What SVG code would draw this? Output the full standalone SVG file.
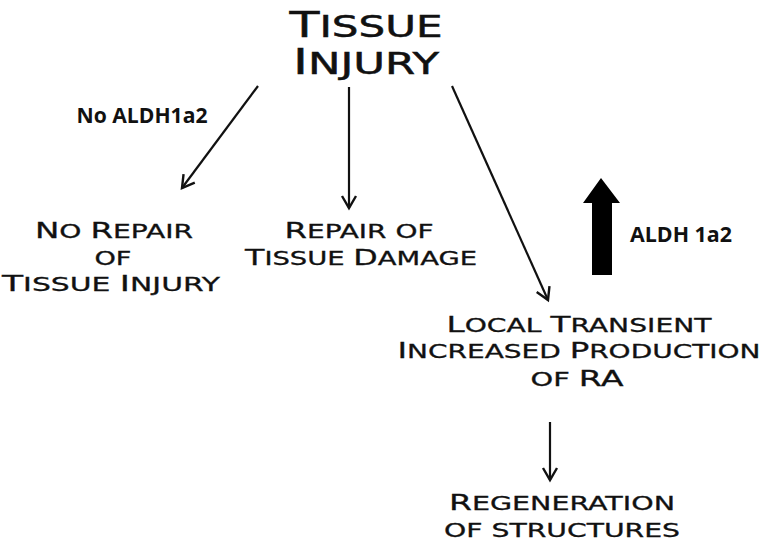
<svg xmlns="http://www.w3.org/2000/svg" width="765" height="547" viewBox="0 0 765 547">
<defs>
<style>
.t{font-family:"DejaVu Sans","Liberation Sans",sans-serif;fill:#111;stroke:#111;stroke-width:0.3;text-anchor:middle;}
.n{font-size:22px;}
.n .s{font-size:19px;text-transform:uppercase;}
.h{font-size:35px;stroke-width:0.5;}
.h .s{font-size:30px;text-transform:uppercase;}
.b{font-family:"Open Sans","Liberation Sans",sans-serif;font-weight:bold;fill:#111;font-size:21px;text-anchor:middle;}
.c{stroke:#111;stroke-width:2.2;fill:none;}
</style>
<marker id="ah" markerUnits="userSpaceOnUse" markerWidth="16" markerHeight="18" refX="13" refY="8" orient="auto" viewBox="0 0 16 16">
<path d="M1,1 L13,8 L1,15" stroke="#111" stroke-width="2.4" fill="none"/>
</marker>
</defs>
<rect width="765" height="547" fill="#fff"/>
<g id="tissue-injury">
<text class="t h" x="366" y="37" textLength="153" lengthAdjust="spacingAndGlyphs">T<tspan class="s">issue</tspan></text>
<text class="t h" x="366" y="74" textLength="146" lengthAdjust="spacingAndGlyphs">I<tspan class="s">njury</tspan></text>
</g>
<g id="no-repair">
<text class="t n" x="114" y="238" textLength="158" lengthAdjust="spacingAndGlyphs">N<tspan class="s">o </tspan>R<tspan class="s">epair</tspan></text>
<text class="t n" x="113" y="265" textLength="37" lengthAdjust="spacingAndGlyphs"><tspan class="s">of</tspan></text>
<text class="t n" x="111" y="291" textLength="218" lengthAdjust="spacingAndGlyphs">T<tspan class="s">issue </tspan>I<tspan class="s">njury</tspan></text>
</g>
<g id="repair">
<text class="t n" x="359" y="238" textLength="149" lengthAdjust="spacingAndGlyphs">R<tspan class="s">epair of</tspan></text>
<text class="t n" x="361" y="265" textLength="232" lengthAdjust="spacingAndGlyphs">T<tspan class="s">issue </tspan>D<tspan class="s">amage</tspan></text>
</g>
<g id="local-ra">
<text class="t n" x="579" y="332" textLength="265" lengthAdjust="spacingAndGlyphs">L<tspan class="s">ocal </tspan>T<tspan class="s">ransient</tspan></text>
<text class="t n" x="579" y="358" textLength="363" lengthAdjust="spacingAndGlyphs">I<tspan class="s">ncreased </tspan>P<tspan class="s">roduction</tspan></text>
<text class="t n" x="577" y="386" textLength="93" lengthAdjust="spacingAndGlyphs"><tspan class="s">of </tspan>RA</text>
</g>
<g id="regeneration">
<text class="t n" x="562" y="510" textLength="226" lengthAdjust="spacingAndGlyphs">R<tspan class="s">egeneration</tspan></text>
<text class="t n" x="562" y="537" textLength="236" lengthAdjust="spacingAndGlyphs"><tspan class="s">of structures</tspan></text>
</g>
<g id="aldh-up">
<path d="M601,178 L620,203 L612,203 L612,275 L592,275 L592,203 L583,203 Z" fill="#000"/>
<text class="b" x="681" y="242" textLength="102" lengthAdjust="spacingAndGlyphs">ALDH 1a2</text>
</g>
<g id="connectors">
<line class="c" x1="258" y1="86" x2="182" y2="188" marker-end="url(#ah)"/>
<line class="c" x1="349" y1="87" x2="349" y2="208" marker-end="url(#ah)"/>
<line class="c" x1="452" y1="86" x2="548" y2="300" marker-end="url(#ah)"/>
<line class="c" x1="550" y1="422" x2="550" y2="480" marker-end="url(#ah)"/>
<text class="b" x="142" y="123" textLength="131" lengthAdjust="spacingAndGlyphs">No ALDH1a2</text>
</g>
</svg>
